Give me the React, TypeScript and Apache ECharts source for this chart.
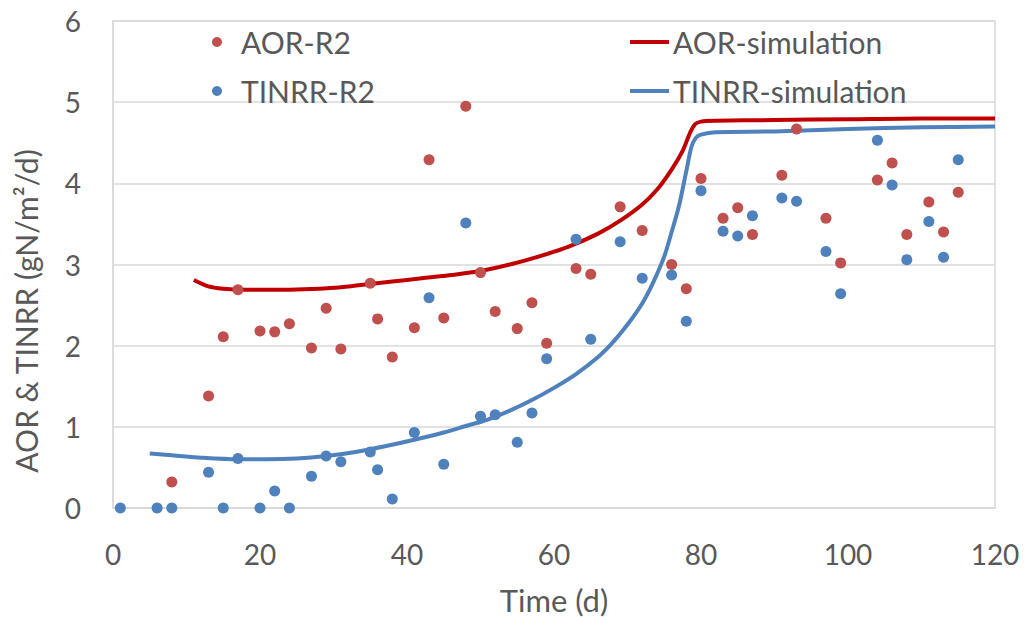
import React, { useEffect, useRef } from "react";
import * as echarts from "echarts";

const aorTimes = [8, 13, 15, 17, 20, 22, 24, 27, 29, 31, 35, 36, 38, 41, 43, 45, 48, 50, 52, 55, 57, 59, 63, 65, 69, 72, 76, 78, 80, 83, 85, 87, 91, 93, 97, 99, 104, 106, 108, 111, 113, 115];
const aorValues = [0.32, 1.38, 2.11, 2.69, 2.18, 2.17, 2.27, 1.97, 2.46, 1.96, 2.77, 2.33, 1.86, 2.22, 4.29, 2.34, 4.95, 2.9, 2.42, 2.21, 2.53, 2.03, 2.95, 2.88, 3.71, 3.42, 3.0, 2.7, 4.06, 3.57, 3.7, 3.37, 4.1, 4.67, 3.57, 3.02, 4.04, 4.25, 3.37, 3.77, 3.4, 3.89];

const tinrrTimes = [1, 6, 8, 13, 15, 17, 20, 22, 24, 27, 29, 31, 35, 36, 38, 41, 43, 45, 48, 50, 52, 55, 57, 59, 63, 65, 69, 72, 76, 78, 80, 83, 85, 87, 91, 93, 97, 99, 104, 106, 108, 111, 113, 115];
const tinrrValues = [0, 0, 0, 0.44, 0, 0.61, 0, 0.21, 0, 0.39, 0.64, 0.57, 0.69, 0.47, 0.11, 0.93, 2.59, 0.54, 3.51, 1.13, 1.15, 0.81, 1.17, 1.84, 3.31, 2.08, 3.28, 2.83, 2.87, 2.3, 3.91, 3.41, 3.35, 3.6, 3.82, 3.78, 3.16, 2.64, 4.53, 3.98, 3.06, 3.53, 3.09, 4.29];

const aorSimTimes = [11, 13, 15, 17, 20, 24, 28, 32, 35, 38, 42, 46, 50, 54, 58, 62, 66, 69, 72, 74, 76, 77.5, 78.5, 79.2, 80, 82, 90, 100, 110, 120];
const aorSimValues = [2.81, 2.73, 2.7, 2.69, 2.69, 2.69, 2.7, 2.73, 2.76, 2.79, 2.83, 2.87, 2.92, 3.0, 3.1, 3.22, 3.38, 3.54, 3.74, 3.92, 4.17, 4.4, 4.62, 4.73, 4.76, 4.77, 4.78, 4.79, 4.8, 4.8];

const tinrrSimTimes = [5, 8, 12, 17, 21, 25, 29, 33, 37, 41, 45, 48, 51, 54, 57, 60, 63, 66, 68, 70, 72, 73.5, 75, 76, 77, 78, 78.7, 79.3, 80, 82, 90, 100, 110, 120];
const tinrrSimValues = [0.67, 0.65, 0.62, 0.6, 0.6, 0.61, 0.64, 0.69, 0.76, 0.84, 0.93, 1.01, 1.09, 1.2, 1.33, 1.48, 1.65, 1.86, 2.04, 2.26, 2.52, 2.78, 3.1, 3.4, 3.72, 4.15, 4.45, 4.56, 4.6, 4.63, 4.64, 4.67, 4.69, 4.7];

const xTicks = { min: 0, max: 120, interval: 20 };
const yTicks = { min: 0, max: 6, interval: 1 };

const pairs = (xs: number[], ys: number[]) => xs.map((x, i) => [x, ys[i]]);

const FONT = "Lato";
const TEXT = "#595959";

export default function App() {
  const ref = useRef<HTMLDivElement>(null);
  useEffect(() => {
    if (!ref.current) return;
    const chart = echarts.init(ref.current, undefined, { renderer: "svg" });
    chart.setOption({
      animation: false,
      backgroundColor: "#ffffff",
      textStyle: { fontFamily: FONT },
      grid: { left: 113, top: 21, right: 29, bottom: 112, show: true, borderColor: "#d9d9d9", borderWidth: 1.5 },
      xAxis: {
        type: "value",
        min: xTicks.min,
        max: xTicks.max,
        interval: xTicks.interval,
        axisLine: { show: true, lineStyle: { color: "#d9d9d9", width: 1.5 } },
        axisTick: { show: false },
        splitLine: { show: false },
        axisLabel: { color: TEXT, fontSize: 28, margin: 32, fontFamily: FONT },
      },
      yAxis: {
        type: "value",
        min: yTicks.min,
        max: yTicks.max,
        interval: yTicks.interval,
        axisLine: { show: true, lineStyle: { color: "#d9d9d9", width: 1.5 } },
        axisTick: { show: false },
        splitLine: { show: true, lineStyle: { color: "#d9d9d9", width: 1.5 } },
        axisLabel: { color: TEXT, fontSize: 28, margin: 32, fontFamily: FONT },
      },
      legend: [
        {
          orient: "vertical",
          left: 207,
          top: 22,
          padding: 5,
          itemWidth: 10,
          itemHeight: 10,
          itemGap: 19,
          icon: "circle",
          textStyle: { color: TEXT, fontSize: 30, lineHeight: 30, fontFamily: FONT, padding: [0, 0, 0, 14] },
          data: ["AOR-R2", "TINRR-R2"],
        },
        {
          orient: "vertical",
          left: 625,
          top: 22,
          padding: 5,
          itemWidth: 39,
          itemHeight: 4,
          itemGap: 19,
          icon: "rect",
          textStyle: { color: TEXT, fontSize: 30, lineHeight: 30, fontFamily: FONT, padding: [0, 0, 0, -1] },
          data: ["AOR-simulation", "TINRR-simulation"],
        },
      ],
      graphic: [
        {
          type: "text",
          x: 26,
          y: 311,
          rotation: Math.PI / 2,
          style: {
            text: "AOR & TINRR (gN/m²/d)",
            fill: TEXT,
            font: `30px ${FONT}`,
            align: "center",
            verticalAlign: "middle",
          },
        },
        {
          type: "text",
          x: 554,
          y: 600,
          style: {
            text: "Time (d)",
            fill: TEXT,
            font: `31px ${FONT}`,
            align: "center",
            verticalAlign: "middle",
          },
        },
      ],
      series: [
        {
          name: "AOR-simulation",
          type: "line",
          data: pairs(aorSimTimes, aorSimValues),
          smooth: 0.3,
          symbol: "none",
          lineStyle: { color: "#C00000", width: 4 },
          itemStyle: { color: "#C00000" },
          z: 1,
        },
        {
          name: "TINRR-simulation",
          type: "line",
          data: pairs(tinrrSimTimes, tinrrSimValues),
          smooth: 0.3,
          symbol: "none",
          lineStyle: { color: "#4F81BD", width: 4 },
          itemStyle: { color: "#4F81BD" },
          z: 1,
        },
        {
          name: "AOR-R2",
          type: "scatter",
          data: pairs(aorTimes, aorValues),
          symbol: "circle",
          symbolSize: 11,
          itemStyle: { color: "#C0504D", opacity: 1 },
          z: 3,
        },
        {
          name: "TINRR-R2",
          type: "scatter",
          data: pairs(tinrrTimes, tinrrValues),
          symbol: "circle",
          symbolSize: 11,
          itemStyle: { color: "#4F81BD", opacity: 1 },
          z: 3,
        },
      ],
    });
    return () => chart.dispose();
  }, []);
  return <div ref={ref} style={{ width: 1024, height: 620, position: "absolute", left: 0, top: 0 }} />;
}
